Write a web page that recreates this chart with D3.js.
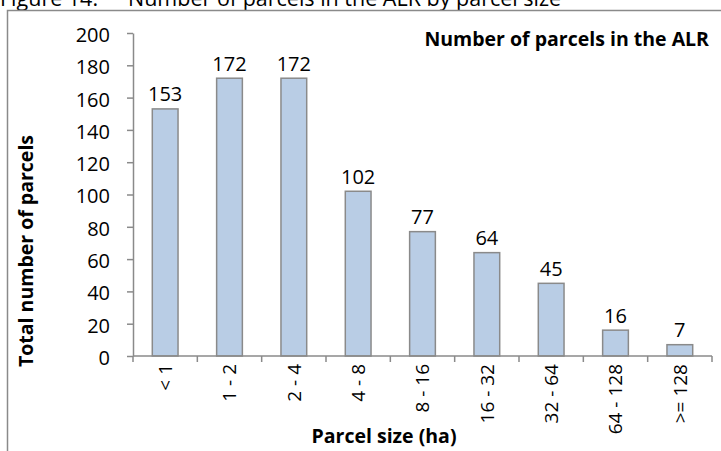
<!DOCTYPE html>
<html>
<head>
<meta charset="utf-8">
<script src="https://cdn.jsdelivr.net/npm/d3@7"></script>
<style>
  html, body { margin: 0; padding: 0; background: #fff; }
  svg { display: block; font-family: "Open Sans", Lato, sans-serif; }
</style>
</head>
<body>
<div id="chart"></div>
<script>
// categories and values
const sizeClasses = ["< 1", "1 - 2", "2 - 4", "4 - 8", "8 - 16", "16 - 32", "32 - 64", "64 - 128", ">= 128"];
const parcelCounts = [153, 172, 172, 102, 77, 64, 45, 16, 7];
const yTicks = [0, 20, 40, 60, 80, 100, 120, 140, 160, 180, 200];

const width = 721, height = 451;
const plot = { left: 133, right: 712, top: 33, bottom: 356 };

const svg = d3.select("#chart")
  .append("svg")
  .attr("width", width)
  .attr("height", height);

// figure caption, cut off at the top of the picture
svg.append("text")
  .attr("x", 0)
  .attr("y", 6)
  .attr("font-size", 21.5)
  .attr("fill", "#000")
  .text("Figure 14:");
svg.append("text")
  .attr("x", 128)
  .attr("y", 6)
  .attr("font-size", 21.5)
  .attr("fill", "#000")
  .text("Number of parcels in the ALR by parcel size");

// chart frame (runs off the right and bottom edge)
svg.append("path")
  .attr("d", "M7.5," + (height + 5) + " V10.5 H" + (width + 5))
  .attr("fill", "none")
  .attr("stroke", "#8a8a8a")
  .attr("stroke-width", 1.5);

const x = d3.scaleBand()
  .domain(sizeClasses)
  .range([plot.left, plot.right])
  .paddingInner(0.6)
  .paddingOuter(0.3);

const y = d3.scaleLinear()
  .domain([0, 200])
  .range([plot.bottom, plot.top]);

// y axis
const yAxis = svg.append("g")
  .attr("transform", "translate(" + plot.left + ",0)")
  .call(d3.axisLeft(y).tickValues(yTicks).tickSize(6).tickPadding(17).tickSizeOuter(0));
yAxis.select(".domain").attr("stroke", "#8a8a8a").attr("stroke-width", 1.5);
yAxis.selectAll(".tick line").attr("stroke", "#8a8a8a").attr("stroke-width", 1.5);
yAxis.selectAll(".tick text")
  .attr("font-family", "'Open Sans', sans-serif")
  .attr("font-size", 20)
  .attr("fill", "#000")
  .attr("dy", "0.42em");

// bars
svg.append("g")
  .selectAll("rect")
  .data(parcelCounts)
  .enter()
  .append("rect")
  .attr("x", (d, i) => x(sizeClasses[i]))
  .attr("y", d => y(d))
  .attr("width", x.bandwidth())
  .attr("height", d => y(0) - y(d))
  .attr("fill", "#b9cde5")
  .attr("stroke", "#8a8a8a")
  .attr("stroke-width", 1.5);

// value labels
svg.append("g")
  .selectAll("text")
  .data(parcelCounts)
  .enter()
  .append("text")
  .attr("x", (d, i) => x(sizeClasses[i]) + x.bandwidth() / 2)
  .attr("y", d => y(d) - 7.5)
  .attr("text-anchor", "middle")
  .attr("font-size", 20)
  .attr("fill", "#000")
  .text(d => d);

// x axis line and tick marks at category boundaries
const step = x.step();
const boundaries = sizeClasses.map((c, i) => plot.left + i * step).concat([plot.right]);
svg.append("line")
  .attr("x1", plot.left).attr("x2", plot.right)
  .attr("y1", plot.bottom).attr("y2", plot.bottom)
  .attr("stroke", "#8a8a8a")
  .attr("stroke-width", 1.5);
svg.append("g")
  .selectAll("line")
  .data(boundaries)
  .enter()
  .append("line")
  .attr("x1", d => d).attr("x2", d => d)
  .attr("y1", plot.bottom).attr("y2", plot.bottom + 6)
  .attr("stroke", "#8a8a8a")
  .attr("stroke-width", 1.5);

// rotated category labels
svg.append("g")
  .selectAll("text")
  .data(sizeClasses)
  .enter()
  .append("text")
  .attr("transform", d => "translate(" + (x(d) + x.bandwidth() / 2) + "," + (plot.bottom + 8) + ") rotate(-90)")
  .attr("text-anchor", "end")
  .attr("dy", "0.36em")
  .attr("font-size", 19)
  .attr("fill", "#000")
  .text(d => d);

// chart title inside plot
svg.append("text")
  .attr("x", 709)
  .attr("y", 46)
  .attr("text-anchor", "end")
  .attr("font-size", 19.5)
  .attr("font-weight", "bold")
  .attr("fill", "#000")
  .text("Number of parcels in the ALR");

// axis titles
svg.append("text")
  .attr("transform", "translate(33,251) rotate(-90)")
  .attr("text-anchor", "middle")
  .attr("font-size", 19.5)
  .attr("font-weight", "bold")
  .attr("fill", "#000")
  .text("Total number of parcels");

svg.append("text")
  .attr("x", 384)
  .attr("y", 443)
  .attr("text-anchor", "middle")
  .attr("font-size", 19.5)
  .attr("font-weight", "bold")
  .attr("fill", "#000")
  .text("Parcel size (ha)");
</script>
</body>
</html>
